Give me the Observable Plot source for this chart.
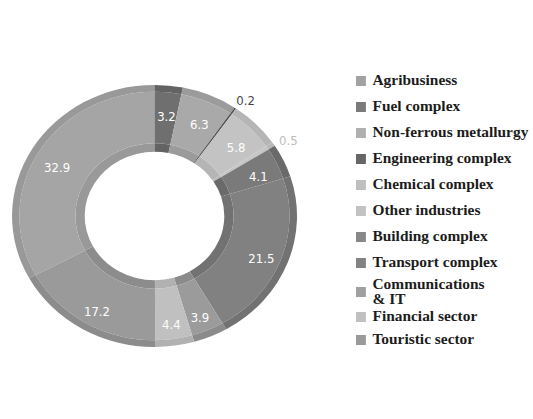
<!DOCTYPE html>
<html>
<head>
<meta charset="utf-8">
<script src="https://cdn.jsdelivr.net/npm/d3@7"></script>
<script src="https://cdn.jsdelivr.net/npm/@observablehq/plot@0.6"></script>
<style>
  html, body { margin: 0; padding: 0; background: #fff; }
  #wrap { position: relative; width: 533px; height: 419px; overflow: hidden; }
  #legend { position: absolute; left: 356px; top: 68px; font-family: "Liberation Serif", "Times New Roman", serif; font-weight: bold; font-size: 14px; color: #1c1c1c; transform-origin: 0 0; transform: scaleX(1.1); }
  .item { display: flex; align-items: center; height: 26px; white-space: nowrap; }
  .sw { width: 9px; height: 10px; flex: none; margin-right: 6px; }
  .item.two { height: 31px; align-items: center; line-height: 15px; }
  .item.short { height: 20px; }
  #chart text { font-stretch: condensed; }
</style>
</head>
<body>
<div id="wrap"><div id="chart"></div><div id="legend"></div></div>
<script>
const categories = ["Agribusiness", "Fuel complex", "Non-ferrous metallurgy", "Engineering complex", "Chemical complex", "Other industries", "Building complex", "Transport complex", "Communications\n& IT", "Financial sector", "Touristic sector"];
const values = [32.9, 3.2, 6.3, 0.2, 5.8, 0.5, 4.1, 21.5, 3.9, 4.4, 17.2];
const sliceColors = ["#a5a5a5", "#6f6f6f", "#a9a9a9", "#4f4f4f", "#c3c3c3", "#c6c6c6", "#7a7a7a", "#818181", "#9b9b9b", "#c0c0c0", "#9a9a9a"];
const bandColors = ["#999999", "#636363", "#9b9b9b", "#4f4f4f", "#b5b5b5", "#b8b8b8", "#6a6a6a", "#727272", "#8b8b8b", "#b1b1b1", "#8c8c8c"];
const legendColors = ["#a2a2a2", "#7a7a7a", "#b0b0b0", "#666666", "#bfbfbf", "#c2c2c2", "#888888", "#828282", "#a0a0a0", "#c0c0c0", "#9a9a9a"];
const labelColors = ["#ffffff", "#ffffff", "#ffffff", "#474747", "#ffffff", "#bdbdbd", "#ffffff", "#ffffff", "#ffffff", "#ffffff", "#ffffff"];

const total = d3.sum(values);
const data = categories.map((c, i) => ({category: c, value: values[i], fill: sliceColors[i], band: bandColors[i], label: labelColors[i]}));
const offset = 2 * Math.PI * values[0] / total;
const arcs = d3.pie().sort(null).value(d => d.value).startAngle(-offset).endAngle(2 * Math.PI - offset)(data);

const labels = arcs.map(a => {
  const mid = (a.startAngle + a.endAngle) / 2;
  const r = a.data.value < 1 ? 1.12 : 0.8;
  return {x: r * Math.sin(mid), y: r * Math.cos(mid), text: d3.format(".1f")(a.data.value), color: a.data.label};
});

const R_HOLE = 0.49, R_INNER = 0.555, R_OUTER_BAND = 0.948, R_OUT = 1;

function donut(index, scales) {
  const {x, y} = scales;
  const g = d3.create("svg:g")
    .attr("transform", `translate(${x(0)},${y(0)}) scale(${x(1) - x(0)},${y(0) - y(1)})`);
  const rings = [[R_HOLE, R_INNER, "band"], [R_INNER, R_OUTER_BAND, "fill"], [R_OUTER_BAND, R_OUT, "band"]];
  for (const a of arcs) {
    for (const [r0, r1, key] of rings) {
      g.append("path")
        .attr("d", d3.arc().innerRadius(r0).outerRadius(r1)(a))
        .attr("fill", a.data[key]);
    }
  }
  return g.node();
}

const plot = Plot.plot({
  width: 533,
  height: 419,
  margin: 0,
  x: {domain: [-1, 1], range: [12, 297], axis: null},
  y: {domain: [-1, 1], range: [347, 85], axis: null},
  style: {background: "#fff", overflow: "visible"},
  marks: [
    donut,
    Plot.text(labels, {x: "x", y: "y", text: "text", fill: "color", lineAnchor: "top", fontSize: 13, fontFamily: "DejaVu Sans, sans-serif"})
  ]
});
document.getElementById("chart").appendChild(plot);

const legend = d3.select("#legend");
categories.forEach((c, i) => {
  const lines = c.split("\n");
  const item = legend.append("div").attr("class", "item" + (lines.length > 1 ? " two" : (i === 9 ? " short" : "")));
  item.append("div").attr("class", "sw").style("background", legendColors[i]);
  const t = item.append("div");
  lines.forEach(l => t.append("div").text(l));
});
</script>
</body>
</html>
